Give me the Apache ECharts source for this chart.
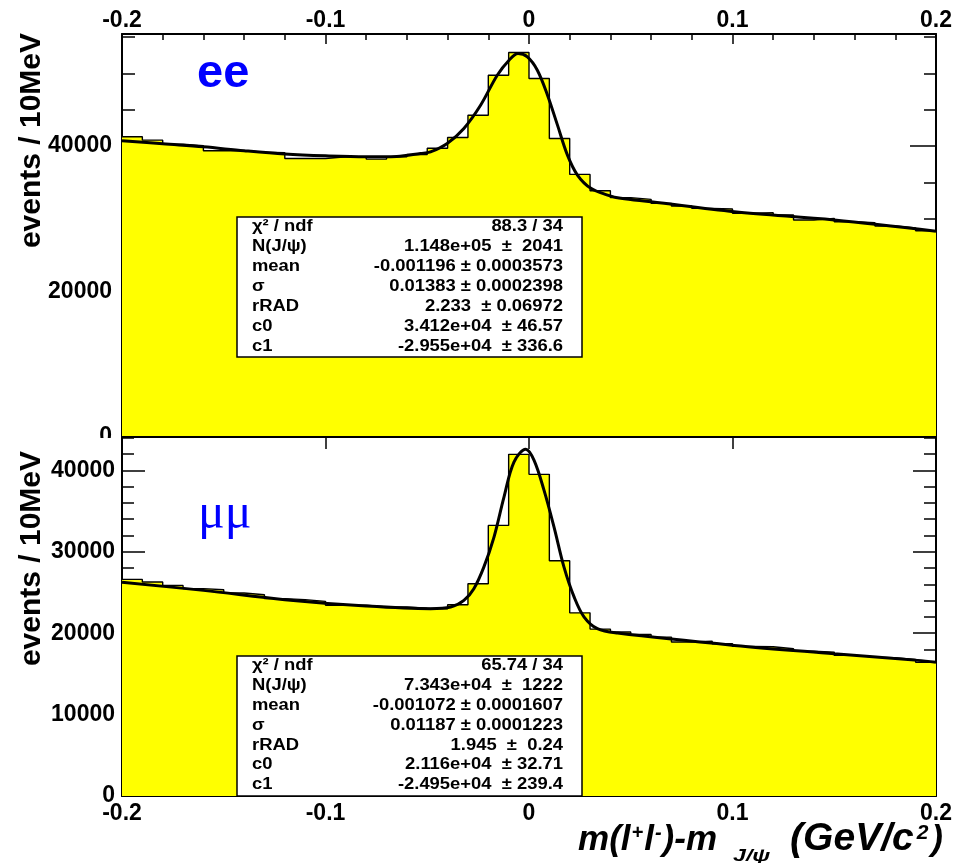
<!DOCTYPE html>
<html>
<head>
<meta charset="utf-8">
<script src="https://cdn.jsdelivr.net/npm/echarts@6/dist/echarts.min.js"></script>
<style>
html, body { margin: 0; padding: 0; background: #fff; }
#chart { width: 975px; height: 863px; }
</style>
</head>
<body>
<div id="chart"></div>
<script>
// 10 MeV bins from -0.2 to 0.2 GeV/c2
const binLow = -0.2;
const binWidth = 0.01;

// ee histogram contents (40 bins)
const eeCounts = [41270, 40810, 40260, 40030, 39350, 39350, 39160, 39070, 38290, 38290,
  38520, 38520, 38200, 38520, 38840, 39700, 41180, 44240, 49730, 52850,
  49280, 41040, 36100, 33850, 32900, 32670, 32120, 31750, 31430, 31340,
  30750, 30840, 30520, 29830, 30060, 29600, 29460, 29000, 28730, 28360];

// mumu histogram contents (40 bins)
const mmCounts = [26610, 26280, 25870, 25470, 25340, 24930, 24730, 24240, 24120, 23910,
  23420, 23450, 23210, 23210, 23080, 23010, 23500, 26080, 33240, 41970,
  39510, 28900, 22500, 20500, 20140, 19850, 19520, 18910, 19030, 18710,
  18380, 18330, 18090, 17800, 17680, 17270, 17060, 16980, 16780, 16420];

// fitted curves
const eeFitX = [-0.2, -0.18, -0.16, -0.14, -0.12, -0.1, -0.08, -0.065, -0.0533, -0.0484, -0.0402, -0.032,
  -0.0238, -0.0156, -0.0098, -0.0054, -0.0008, 0.0041, 0.0091, 0.014, 0.0189, 0.0238,
  0.0304, 0.0386, 0.0451, 0.06, 0.1009, 0.15, 0.2];
const eeFitY = [40740, 40300, 39890, 39350, 38900, 38650, 38520, 38560, 38980, 39200, 40360, 42420,
  45610, 49730, 51790, 52710, 52250, 50420, 46990, 42870, 38750, 36010,
  34180, 33260, 32810, 32340, 30970, 29830, 28300];

const mmFitX = [-0.2, -0.16, -0.12, -0.08, -0.0484, -0.0385, -0.032, -0.0271, -0.0222, -0.0172,
  -0.0123, -0.0074, -0.0016, 0.0025, 0.0074, 0.0123, 0.0172, 0.0222, 0.0271, 0.0336,
  0.0435, 0.1009, 0.15, 0.191, 0.2];
const mmFitY = [26250, 25260, 24120, 23330, 23010, 23210, 24030, 25470, 28120, 31810,
  36720, 41020, 42600, 41230, 37540, 33030, 28120, 24430, 21980, 20550,
  20010, 18500, 17480, 16660, 16420];

const xTicks = { min: -0.2, max: 0.2, step: 0.1 };
const eeY = { max: 55400, step: 20000, minor: 5000 };
const mmY = { max: 44100, step: 10000, minor: 2000 };

const eeStatNames = ['χ² / ndf', 'N(J/ψ)', 'mean', 'σ', 'rRAD', 'c0', 'c1'];
const eeStatValues = ['88.3 / 34', '1.148e+05  ±  2041', '-0.001196 ± 0.0003573',
  '0.01383 ± 0.0002398', '2.233  ± 0.06972', '3.412e+04  ± 46.57', '-2.955e+04  ± 336.6'];
const mmStatNames = ['χ² / ndf', 'N(J/ψ)', 'mean', 'σ', 'rRAD', 'c0', 'c1'];
const mmStatValues = ['65.74 / 34', '7.343e+04  ±  1222', '-0.001072 ± 0.0001607',
  '0.01187 ± 0.0001223', '1.945  ±  0.24', '2.116e+04  ± 32.71', '-2.495e+04  ± 239.4'];

const FONT = 'Liberation Sans, Arial, sans-serif';

function histPoints(counts) {
  const pts = counts.map((c, i) => [binLow + i * binWidth, c]);
  pts.push([binLow + counts.length * binWidth, counts[counts.length - 1]]);
  return pts;
}
function zip(xs, ys) { return xs.map((x, i) => [x, ys[i]]); }

const tickStyle = { color: '#000', width: 1.5 };
const lineStyle = { color: '#000', width: 2 };

function xAxis(grid, pos, o) {
  return {
    type: 'value', gridIndex: grid, position: pos,
    min: xTicks.min, max: xTicks.max, interval: xTicks.step,
    z: grid ? 10 : 0,
    axisLine: { show: true, onZero: false, lineStyle },
    axisTick: { show: true, inside: true, length: o.tick, lineStyle: tickStyle },
    minorTick: { show: o.minor > 0, splitNumber: 5, length: o.minor, lineStyle: tickStyle },
    splitLine: { show: false },
    axisLabel: {
      show: !!o.label, margin: o.margin || 6, color: '#000',
      fontFamily: FONT, fontWeight: 'bold', fontSize: 23,
      formatter: v => String(Math.round(v * 10) / 10)
    }
  };
}
function yAxis(grid, pos, max, step, tick, label) {
  return {
    type: 'value', gridIndex: grid, position: pos,
    min: 0, max: max, interval: step,
    z: grid ? 10 : 0,
    axisLine: { show: label !== null, onZero: false, lineStyle },
    axisTick: { show: true, inside: true, length: tick, lineStyle: tickStyle },
    splitLine: { show: false },
    axisLabel: {
      show: !!label, showMaxLabel: false, margin: label || 8, color: '#000',
      fontFamily: FONT, fontWeight: 'bold', fontSize: 23,
      formatter: v => String(v)
    }
  };
}

function statBox(left, top, w, h, rowH, names, values) {
  const items = [{
    type: 'rect', z: 30, shape: { x: left, y: top, width: w, height: h },
    style: { fill: '#fff', stroke: '#000', lineWidth: 1.5 }
  }];
  names.forEach((n, i) => {
    const y = top + 10 + i * rowH;
    items.push({
      type: 'text', z: 31, x: left + 15, y: y, scaleX: 1.15,
      style: { text: n, fill: '#000', font: 'bold 16px ' + FONT, align: 'left', verticalAlign: 'middle' }
    });
    items.push({
      type: 'text', z: 31, x: left + 326, y: y, scaleX: 1.15,
      style: { text: values[i], fill: '#000', font: 'bold 16px ' + FONT, align: 'right', verticalAlign: 'middle' }
    });
  });
  return items;
}

const chart = echarts.init(document.getElementById('chart'), null, { renderer: 'canvas' });

const titleFont = { fontFamily: FONT, fontWeight: 'bold', fontStyle: 'italic', verticalAlign: 'top' };
const titleRich = {
  t: Object.assign({ fontSize: 35, padding: [4, 0, 0, 0] }, titleFont),
  g: Object.assign({ fontSize: 39, padding: [1, 0, 0, 0] }, titleFont),
  v: Object.assign({ fontSize: 20, padding: [4, 1, 0, 1] }, titleFont),
  u: Object.assign({ fontSize: 21, padding: [4, 3, 0, 3] }, titleFont)
};

chart.setOption({
  animation: false,
  backgroundColor: '#fff',
  grid: [
    { left: 122, right: 39, top: 34, height: 403 },
    { left: 122, right: 39, top: 437, height: 359 }
  ],
  xAxis: [
    xAxis(0, 'bottom', { tick: 12, minor: 6 }),
    xAxis(0, 'top', { tick: 10, minor: 6, label: true, margin: 2 }),
    xAxis(1, 'bottom', { tick: 8, minor: 6, label: true, margin: 6 }),
    xAxis(1, 'top', { tick: 12, minor: 0 })
  ],
  yAxis: [
    yAxis(0, 'left', eeY.max, eeY.step, 27, 10),
    yAxis(0, 'left', eeY.max, eeY.minor, 13, null),
    yAxis(0, 'right', eeY.max, eeY.step, 26, 0),
    yAxis(0, 'right', eeY.max, eeY.minor, 12, null),
    yAxis(1, 'left', mmY.max, mmY.step, 23, 7),
    yAxis(1, 'left', mmY.max, mmY.minor, 12, null),
    yAxis(1, 'right', mmY.max, mmY.step, 23, 0),
    yAxis(1, 'right', mmY.max, mmY.minor, 12, null)
  ],
  series: [
    {
      type: 'line', xAxisIndex: 0, yAxisIndex: 0, step: 'end', z: 2,
      data: histPoints(eeCounts), showSymbol: false, symbol: 'none',
      lineStyle: { color: '#000', width: 1.4 },
      areaStyle: { color: '#ffff00', opacity: 1, origin: 'start' }
    },
    {
      type: 'line', xAxisIndex: 0, yAxisIndex: 0, smooth: 0.35, z: 3,
      data: zip(eeFitX, eeFitY), showSymbol: false, symbol: 'none',
      lineStyle: { color: '#000', width: 3 }
    },
    {
      type: 'line', xAxisIndex: 2, yAxisIndex: 4, step: 'end', z: 11,
      data: histPoints(mmCounts), showSymbol: false, symbol: 'none',
      lineStyle: { color: '#000', width: 1.4 },
      areaStyle: { color: '#ffff00', opacity: 1, origin: 'start' }
    },
    {
      type: 'line', xAxisIndex: 2, yAxisIndex: 4, smooth: 0.35, z: 12,
      data: zip(mmFitX, mmFitY), showSymbol: false, symbol: 'none',
      lineStyle: { color: '#000', width: 3 }
    }
  ],
  graphic: [
    // lower pad covers the bottom of the upper pad
    { type: 'rect', z: 5, silent: true, shape: { x: 0, y: 438, width: 975, height: 425 }, style: { fill: '#fff' } },
    { type: 'text', z: 20, x: 197, y: 74, style: { text: 'ee', fill: '#0000ff', font: 'bold 47px ' + FONT, align: 'left', verticalAlign: 'middle' } },
    { type: 'text', z: 20, x: 198, y: 515, style: { text: 'μμ', fill: '#0000ff', font: '50px Liberation Serif, serif', align: 'left', verticalAlign: 'middle' } },
    { type: 'text', z: 20, x: 32, y: 33, rotation: Math.PI / 2, style: { text: 'events / 10MeV', fill: '#000', font: 'bold 30px ' + FONT, align: 'right', verticalAlign: 'middle' } },
    { type: 'text', z: 20, x: 32, y: 451, rotation: Math.PI / 2, style: { text: 'events / 10MeV', fill: '#000', font: 'bold 30px ' + FONT, align: 'right', verticalAlign: 'middle' } },
    // x axis title in three pieces
    { type: 'text', z: 20, x: 717, y: 819, style: { text: '{t|m(l}{v|+}{t|l}{v|-}{t|)-m}', align: 'right', verticalAlign: 'top', fill: '#000', rich: titleRich } },
    { type: 'text', z: 20, x: 733, y: 857, scaleX: 1.45, style: { text: 'J/ψ', fill: '#000', font: 'italic bold 16px ' + FONT, align: 'left', verticalAlign: 'middle' } },
    { type: 'text', z: 20, x: 943, y: 819, style: { text: '{g|(GeV/c}{u|2}{t|)}', align: 'right', verticalAlign: 'top', fill: '#000', rich: titleRich } }
  ].concat(statBox(237, 217, 345, 140, 20, eeStatNames, eeStatValues))
   .concat(statBox(237, 656, 345, 140, 19.8, mmStatNames, mmStatValues))
});
</script>
</body>
</html>
